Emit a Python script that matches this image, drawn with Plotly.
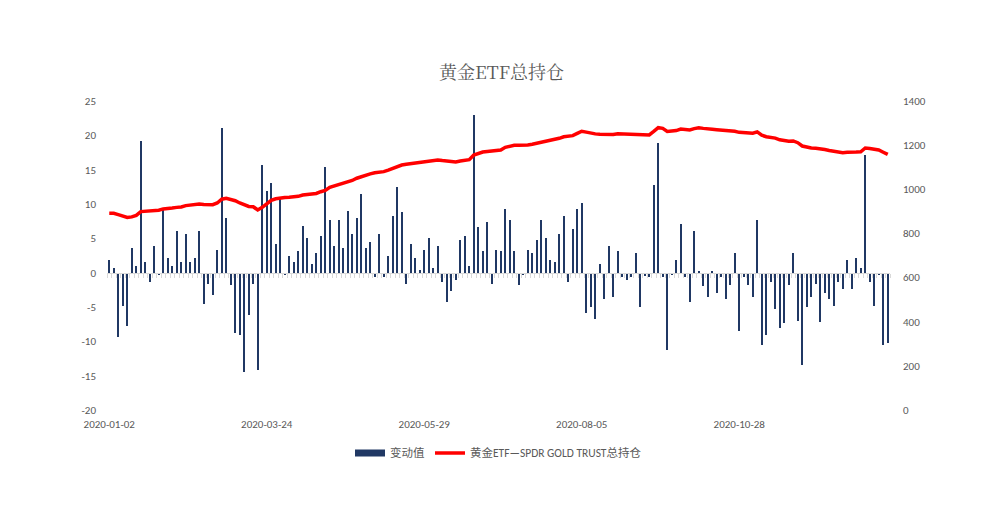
"""Gold ETF total holdings: daily change (bars) against SPDR total holdings (line)"""

import plotly.graph_objects as go

# x axis labels, one every 35 trading records
tick_labels = ["2020-01-02", "2020-03-24", "2020-05-29", "2020-08-05", "2020-10-28"]
tick_step = 35

# daily change, tonnes (left axis)
change = [
    1.9, 0.7, -9.4, -4.8, -7.7, 3.6, 1.0, 19.2, 1.6, -1.3,
    3.9, -0.4, 9.1, 2.2, 1.0, 6.0, 1.6, 5.7, 1.6, 2.2,
    6.0, -4.5, -1.6, -3.3, 3.3, 21.0, 8.0, -1.8, -8.8, -9.1,
    -14.5, -6.2, -1.6, -14.2, 15.7, 11.9, 13.1, 4.2, 10.9, -0.4,
    2.5, 1.6, 3.1, 6.8, 5.1, 1.3, 2.8, 5.4, 15.4, 7.7,
    3.9, 7.7, 3.6, 9.0, 5.7, 8.0, 11.4, 3.6, 4.5, -0.7,
    5.7, -0.7, 2.5, 8.3, 12.5, 8.9, -1.6, 4.2, 2.2, 0.4,
    3.3, 5.1, 0.7, 3.9, -1.3, -4.2, -2.7, -1.0, 4.8, 5.4,
    1.0, 23.0, 6.6, 3.1, 7.4, -1.6, 3.3, 3.1, 9.3, 7.7,
    3.1, -1.8, -0.4, 3.3, 2.8, 4.8, 7.7, 5.1, 1.9, 1.6,
    5.7, 8.3, -1.3, 6.3, 9.2, 10.2, -5.9, -5.0, -6.7, 1.3,
    -3.9, 3.9, -3.6, 3.1, -0.7, -1.0, -0.7, 2.8, -5.0, -0.5,
    -0.7, 12.8, 18.9, -0.7, -11.2, -0.4, 1.9, 7.1, -0.7, -4.2,
    6.0, 0.15, -2.0, -3.6, 0.15, -3.0, -0.7, -3.9, -1.8, 2.8,
    -8.5, -0.7, -1.8, -3.6, 7.7, -10.6, -9.1, -1.3, -5.3, -8.1,
    -7.4, -1.8, 2.8, -7.1, -13.5, -5.0, -3.6, -1.6, -7.2, -3.0,
    -3.9, -4.8, -1.3, -2.4, 1.9, -2.4, 2.2, 0.7, 17.2, -1.3,
    -4.8, -0.4, -10.6, -10.3,
]

# SPDR GOLD TRUST total holdings, tonnes (right axis)
holdings = [
    891, 891, 885, 878, 872, 875, 882, 899, 900, 900,
    903, 905, 911, 912, 915, 918, 920, 926, 928, 930,
    933, 931, 930, 930, 938, 955, 959, 955, 948, 938,
    929, 922, 921, 906, 918, 935, 950, 957, 962, 963,
    964, 966, 968, 974, 977, 978, 981, 989, 995, 1009,
    1015, 1020, 1027, 1033, 1040, 1050, 1058, 1065, 1070, 1075,
    1078, 1080, 1087, 1095, 1103, 1110, 1113, 1116, 1118, 1122,
    1125, 1129, 1131, 1133, 1130, 1127, 1125, 1124, 1128, 1133,
    1134, 1155, 1162, 1169, 1171, 1174, 1176, 1178, 1190, 1195,
    1199, 1200, 1200, 1201, 1204, 1208, 1214, 1220, 1223, 1225,
    1231, 1238, 1240, 1243, 1253, 1263, 1259, 1254, 1251, 1249,
    1248, 1246, 1248, 1252, 1251, 1251, 1250, 1248, 1246, 1246,
    1246, 1262, 1279, 1276, 1262, 1264, 1266, 1273, 1272, 1269,
    1275, 1279, 1276, 1272, 1272, 1270, 1269, 1266, 1264, 1263,
    1258, 1257, 1256, 1254, 1260, 1245, 1238, 1236, 1232, 1224,
    1220, 1218, 1219, 1211, 1196, 1191, 1187, 1186, 1184, 1180,
    1176, 1172, 1170, 1166, 1168, 1167, 1169, 1170, 1187, 1185,
    1180, 1178, 1168, 1158,
]

# left axis ticks, written with a plain hyphen like the original
left_ticks = [-20, -15, -10, -5, 0, 5, 10, 15, 20, 25]

NAVY = "#203864"
RED = "#ff0000"
GREY = "#595959"
FONT = "Calibri, Carlito, 'Noto Sans', 'Noto Sans CJK SC', sans-serif"

x = list(range(len(change)))
x_range = [-0.5, len(change) - 0.5]
y_left = [left_ticks[0], left_ticks[-1]]

fig = go.Figure()

fig.add_trace(go.Bar(
    x=x, y=change, name="变动值",
    marker=dict(color=NAVY, line=dict(width=0)),
    width=0.52, showlegend=False,
))
# stand-in so the legend swatch is a wide bar like the original
fig.add_trace(go.Scatter(
    x=[None], y=[None], mode="lines", name="变动值",
    line=dict(color=NAVY, width=7),
))
fig.add_trace(go.Scatter(
    x=x, y=holdings, mode="lines", name="黄金ETF—SPDR GOLD TRUST总持仓",
    line=dict(color=RED, width=3.5), xaxis="x2", yaxis="y2",
))

# the page body adds an 8px margin, so margins are trimmed by that much
fig.update_layout(
    width=1001, height=510,
    margin=dict(l=99, r=119, t=93, b=108),
    plot_bgcolor="white", paper_bgcolor="white",
    font=dict(family=FONT, size=11, color=GREY),
    title=dict(
        text="黄金ETF总持仓", x=0.493, xanchor="center", y=0.874, yanchor="middle",
        font=dict(family="'Noto Serif CJK SC', 'Liberation Serif', serif", size=18, color=GREY),
    ),
    bargap=0,
    xaxis=dict(
        range=x_range, tickmode="array",
        tickvals=[i * tick_step for i in range(len(tick_labels))],
        ticktext=tick_labels,
        showgrid=False, zeroline=False, showline=False, ticks="",
        tickfont=dict(size=11, color=GREY), ticklabelstandoff=6,
    ),
    # category tick marks sitting on the zero line
    xaxis2=dict(
        overlaying="x", anchor="free", position=(0 - y_left[0]) / (y_left[1] - y_left[0]),
        range=x_range, tickmode="linear", tick0=-0.5, dtick=1,
        ticks="outside", ticklen=4, tickcolor="#d9d9d9", tickwidth=1,
        showline=True, linecolor="#d9d9d9", linewidth=1,
        showticklabels=False, showgrid=False, zeroline=False,
    ),
    yaxis=dict(
        range=y_left, tickmode="array",
        tickvals=left_ticks, ticktext=[str(v) for v in left_ticks],
        showgrid=False, zeroline=False, showline=False, ticks="",
        ticklabelstandoff=10,
    ),
    yaxis2=dict(
        overlaying="y", side="right", anchor="x",
        range=[0, 1400], tickmode="linear", dtick=200,
        showgrid=False, zeroline=False, showline=False, ticks="",
        ticklabelstandoff=12,
    ),
    legend=dict(
        orientation="h", x=0.5, xanchor="center", y=-0.139, yanchor="middle",
        font=dict(size=11.5, color=GREY), itemwidth=30, traceorder="normal",
    ),
)

fig.write_html("out.html")
